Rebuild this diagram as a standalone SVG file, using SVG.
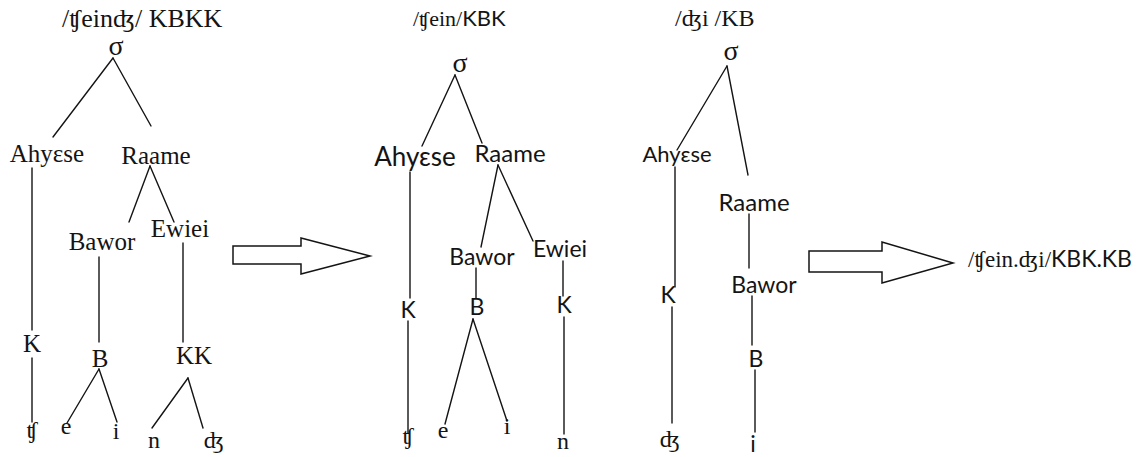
<svg xmlns="http://www.w3.org/2000/svg" width="1143" height="457" viewBox="0 0 1143 457">
<style>
.bg{fill:#ffffff}
.sf{font-family:"Liberation Serif","DejaVu Serif",serif;fill:#141414}
.ss{font-family:Lato,"Noto Sans","DejaVu Sans",sans-serif;fill:#141414}
.m{text-anchor:middle}
.ln{stroke:#141414;stroke-width:1.4;fill:none;stroke-linecap:round}
.arrow{fill:#ffffff;stroke:#141414;stroke-width:1.5;stroke-linejoin:miter}
</style>
<rect class="bg" x="0" y="0" width="1143" height="457"/>

<g id="connectors">
  <!-- tree 1 -->
  <line class="ln" x1="113" y1="58" x2="53" y2="137"/>
  <line class="ln" x1="113" y1="58" x2="151" y2="126"/>
  <line class="ln" x1="32" y1="168" x2="32" y2="330"/>
  <line class="ln" x1="32" y1="358" x2="32" y2="422"/>
  <line class="ln" x1="150" y1="166" x2="129" y2="222"/>
  <line class="ln" x1="150" y1="166" x2="174" y2="222"/>
  <line class="ln" x1="99" y1="257" x2="99" y2="342"/>
  <line class="ln" x1="183" y1="243" x2="183" y2="342"/>
  <line class="ln" x1="99" y1="369" x2="67" y2="423"/>
  <line class="ln" x1="99" y1="369" x2="117" y2="422"/>
  <line class="ln" x1="188" y1="378" x2="152" y2="428"/>
  <line class="ln" x1="188" y1="378" x2="203" y2="428"/>
  <!-- tree 2 -->
  <line class="ln" x1="455" y1="75" x2="422" y2="146"/>
  <line class="ln" x1="455" y1="75" x2="482" y2="143"/>
  <line class="ln" x1="410" y1="172" x2="410" y2="298"/>
  <line class="ln" x1="408" y1="321" x2="408" y2="433"/>
  <line class="ln" x1="498" y1="165" x2="481" y2="247"/>
  <line class="ln" x1="498" y1="165" x2="533" y2="241"/>
  <line class="ln" x1="476" y1="268" x2="476" y2="298"/>
  <line class="ln" x1="473" y1="319" x2="445" y2="424"/>
  <line class="ln" x1="473" y1="319" x2="507" y2="421"/>
  <line class="ln" x1="563" y1="261" x2="563" y2="296"/>
  <line class="ln" x1="564" y1="317" x2="564" y2="434"/>
  <!-- tree 3 -->
  <line class="ln" x1="727" y1="66" x2="677" y2="150"/>
  <line class="ln" x1="727" y1="66" x2="748" y2="175"/>
  <line class="ln" x1="675" y1="167" x2="675" y2="287"/>
  <line class="ln" x1="672" y1="307" x2="672" y2="423"/>
  <line class="ln" x1="749" y1="214" x2="749" y2="268"/>
  <line class="ln" x1="752" y1="296" x2="752" y2="345"/>
  <line class="ln" x1="755" y1="370" x2="755" y2="432"/>
</g>

<g id="arrow1">
  <polygon class="arrow" points="233,246 301,246 301,238 370,256 301,274 301,264 233,264"/>
</g>
<g id="arrow2">
  <polygon class="arrow" points="809,251 882,251 882,242 953,263 882,283 882,272 809,272"/>
</g>

<!-- Tree 1 -->
<g id="t1-title"><text class="sf" x="62" y="27" font-size="26">/ʧeinʤ/ KBKK</text></g>
<g id="t1-sigma"><text class="sf m" x="116" y="55" font-size="28">σ</text></g>
<g id="t1-ahyese"><text class="sf m" x="47" y="162" font-size="25">Ahyɛse</text></g>
<g id="t1-raame"><text class="sf m" x="156" y="164" font-size="25">Raame</text></g>
<g id="t1-bawor"><text class="sf m" x="102" y="250" font-size="25">Bawor</text></g>
<g id="t1-ewiei"><text class="sf m" x="180" y="237" font-size="25">Ewiei</text></g>
<g id="t1-k"><text class="sf m" x="32" y="352" font-size="25">K</text></g>
<g id="t1-b"><text class="sf m" x="100" y="367" font-size="25">B</text></g>
<g id="t1-kk"><text class="sf m" x="194" y="364" font-size="25">KK</text></g>
<g id="t1-ch"><text class="sf m" x="32" y="438" font-size="24">ʧ</text></g>
<g id="t1-e"><text class="sf m" x="66" y="434" font-size="24">e</text></g>
<g id="t1-i"><text class="sf m" x="116" y="439" font-size="24">i</text></g>
<g id="t1-n"><text class="sf m" x="154" y="448" font-size="24">n</text></g>
<g id="t1-dz"><text class="sf m" x="214" y="448" font-size="24">ʤ</text></g>

<!-- Tree 2 -->
<g id="t2-title"><text x="413" y="26" font-size="22"><tspan class="sf">/ʧein/</tspan><tspan class="ss">KBK</tspan></text></g>
<g id="t2-sigma"><text class="sf m" x="460" y="72" font-size="28">σ</text></g>
<g id="t2-ahyese"><text class="ss m" x="415" y="166" font-size="26">Ahyɛse</text></g>
<g id="t2-raame"><text class="ss m" x="510" y="162" font-size="24">Raame</text></g>
<g id="t2-bawor"><text class="ss m" x="482" y="265" font-size="23">Bawor</text></g>
<g id="t2-ewiei"><text class="ss m" x="560" y="257" font-size="23">Ewiei</text></g>
<g id="t2-k1"><text class="ss m" x="408" y="318" font-size="23">K</text></g>
<g id="t2-b"><text class="ss m" x="477" y="315" font-size="23">B</text></g>
<g id="t2-k2"><text class="ss m" x="564" y="313" font-size="23">K</text></g>
<g id="t2-ch"><text class="sf m" x="408" y="444" font-size="24">ʧ</text></g>
<g id="t2-e"><text class="sf m" x="443" y="438" font-size="24">e</text></g>
<g id="t2-i"><text class="sf m" x="507" y="434" font-size="24">i</text></g>
<g id="t2-n"><text class="sf m" x="563" y="449" font-size="24">n</text></g>

<!-- Tree 3 -->
<g id="t3-title"><text class="sf" x="675" y="26" font-size="24">/ʤi /KB</text></g>
<g id="t3-sigma"><text class="sf m" x="731" y="60" font-size="28">σ</text></g>
<g id="t3-ahyese"><text class="ss m" x="677" y="162" font-size="22">Ahyɛse</text></g>
<g id="t3-raame"><text class="ss m" x="754" y="211" font-size="24">Raame</text></g>
<g id="t3-k"><text class="ss m" x="668" y="303" font-size="23">K</text></g>
<g id="t3-bawor"><text class="ss m" x="764" y="293" font-size="23">Bawor</text></g>
<g id="t3-b"><text class="ss m" x="756" y="367" font-size="23">B</text></g>
<g id="t3-dz"><text class="sf m" x="670" y="447" font-size="24">ʤ</text></g>
<g id="t3-i"><text class="ss m" x="753" y="452" font-size="23">i</text></g>

<!-- Result -->
<g id="result"><text x="968" y="267" font-size="23"><tspan class="sf">/ʧein.ʤi/</tspan><tspan class="ss">KBK.KB</tspan></text></g>
</svg>
